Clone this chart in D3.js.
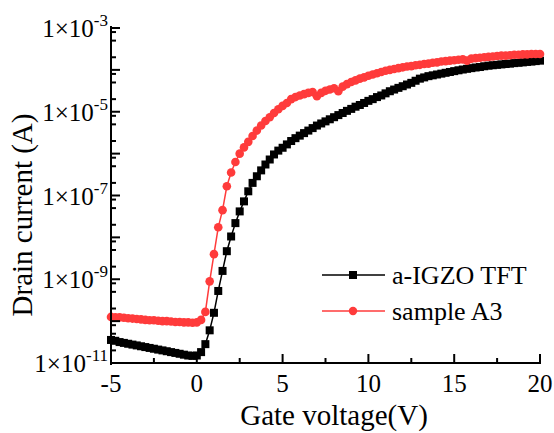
<!DOCTYPE html>
<html>
<head>
<meta charset="utf-8">
<script src="https://cdn.jsdelivr.net/npm/d3@7/dist/d3.min.js"></script>
<style>
  html, body { margin: 0; padding: 0; background: #fff; }
  svg { display: block; }
  text { font-family: "Liberation Serif", "Times New Roman", serif; fill: #000; }
</style>
</head>
<body>
<div id="chart"></div>
<script>
// Gate voltage sweep (V)
const gateVoltage = [
  -5.00,-4.75,-4.50,-4.25,-4.00,-3.75,-3.50,-3.25,-3.00,-2.75,
  -2.50,-2.25,-2.00,-1.75,-1.50,-1.25,-1.00,-0.75,-0.50,-0.25,
  0.00,0.25,0.50,0.75,1.00,1.25,1.50,1.75,2.00,2.25,
  2.50,2.75,3.00,3.25,3.50,3.75,4.00,4.25,4.50,4.75,
  5.00,5.25,5.50,5.75,6.00,6.25,6.50,6.75,7.00,7.25,
  7.50,7.75,8.00,8.25,8.50,8.75,9.00,9.25,9.50,9.75,
  10.00,10.25,10.50,10.75,11.00,11.25,11.50,11.75,12.00,12.25,
  12.50,12.75,13.00,13.25,13.50,13.75,14.00,14.25,14.50,14.75,
  15.00,15.25,15.50,15.75,16.00,16.25,16.50,16.75,17.00,17.25,
  17.50,17.75,18.00,18.25,18.50,18.75,19.00,19.25,19.50,19.75,
  20.00
];

// Drain current (A), a-IGZO TFT
const currentIGZO = [
  3.55e-11,3.39e-11,3.16e-11,3.02e-11,2.88e-11,2.75e-11,2.63e-11,2.51e-11,2.40e-11,2.29e-11,
  2.19e-11,2.09e-11,2.00e-11,1.91e-11,1.82e-11,1.74e-11,1.66e-11,1.58e-11,1.51e-11,1.48e-11,
  1.51e-11,1.82e-11,2.82e-11,6.03e-11,1.58e-10,5.25e-10,1.58e-9,4.68e-9,1.05e-8,2.19e-8,
  4.17e-8,7.24e-8,1.26e-7,2.00e-7,2.88e-7,3.98e-7,5.50e-7,7.24e-7,9.55e-7,1.18e-6,
  1.38e-6,1.66e-6,2.00e-6,2.34e-6,2.69e-6,3.09e-6,3.55e-6,4.07e-6,4.68e-6,5.25e-6,
  5.89e-6,6.61e-6,7.41e-6,8.32e-6,9.33e-6,1.05e-5,1.17e-5,1.32e-5,1.45e-5,1.62e-5,
  1.82e-5,2.00e-5,2.24e-5,2.45e-5,2.75e-5,3.09e-5,3.39e-5,3.72e-5,4.07e-5,4.47e-5,
  4.90e-5,5.50e-5,6.17e-5,6.61e-5,7.08e-5,7.41e-5,7.76e-5,8.13e-5,8.51e-5,8.91e-5,
  9.33e-5,9.77e-5,1.02e-4,1.06e-4,1.10e-4,1.14e-4,1.17e-4,1.22e-4,1.26e-4,1.29e-4,
  1.32e-4,1.35e-4,1.38e-4,1.41e-4,1.45e-4,1.48e-4,1.51e-4,1.55e-4,1.58e-4,1.62e-4,
  1.66e-4
];

// Drain current (A), sample A3
const currentA3 = [
  1.26e-10,1.23e-10,1.23e-10,1.20e-10,1.17e-10,1.15e-10,1.12e-10,1.10e-10,1.07e-10,1.05e-10,
  1.05e-10,1.02e-10,1.00e-10,1.00e-10,9.77e-11,9.55e-11,9.55e-11,9.33e-11,9.33e-11,9.12e-11,
  9.33e-11,1.07e-10,1.66e-10,8.91e-10,3.98e-9,1.74e-8,4.47e-8,1.66e-7,3.55e-7,6.31e-7,
  1.00e-6,1.41e-6,1.91e-6,2.63e-6,3.55e-6,4.68e-6,6.03e-6,7.41e-6,9.33e-6,1.15e-5,
  1.38e-5,1.62e-5,2.00e-5,2.24e-5,2.45e-5,2.63e-5,2.82e-5,2.95e-5,2.34e-5,2.82e-5,
  3.16e-5,3.39e-5,3.63e-5,3.09e-5,3.98e-5,4.57e-5,5.13e-5,5.62e-5,6.17e-5,6.61e-5,
  7.24e-5,7.76e-5,8.32e-5,8.91e-5,9.55e-5,1.00e-4,1.05e-4,1.10e-4,1.15e-4,1.20e-4,
  1.23e-4,1.29e-4,1.32e-4,1.38e-4,1.41e-4,1.48e-4,1.51e-4,1.58e-4,1.62e-4,1.66e-4,
  1.70e-4,1.74e-4,1.78e-4,1.66e-4,1.86e-4,1.91e-4,1.95e-4,2.00e-4,2.04e-4,2.09e-4,
  2.14e-4,2.19e-4,2.19e-4,2.24e-4,2.29e-4,2.29e-4,2.34e-4,2.34e-4,2.40e-4,2.40e-4,
  2.40e-4
];

const seriesNames = ["a-IGZO TFT", "sample A3"];
const xTickValues = [-5, 0, 5, 10, 15, 20];
const xMinorTicks = [-2.5, 2.5, 7.5, 12.5, 17.5];
const yLabelExponents = [-3, -5, -7, -9, -11];

const W = 554, H = 433;
const svg = d3.select("#chart").append("svg").attr("width", W).attr("height", H);

const x = d3.scaleLinear().domain([-5, 20]).range([111, 540]);
const y = d3.scaleLog().domain([1e-11, 1e-3]).range([363, 28]);

const black = "#000000", red = "#ff3b3b";

// data
const igzo = gateVoltage.map((v, i) => ({ v, c: currentIGZO[i] }));
const a3 = gateVoltage.map((v, i) => ({ v, c: currentA3[i] }));
const line = d3.line().x(d => x(d.v)).y(d => y(d.c));

const gPlot = svg.append("g");
gPlot.append("path").datum(igzo).attr("d", line)
  .attr("fill", "none").attr("stroke", black).attr("stroke-width", 1.5);
gPlot.selectAll("rect.m").data(igzo).enter().append("rect")
  .attr("x", d => x(d.v) - 4).attr("y", d => y(d.c) - 4)
  .attr("width", 8).attr("height", 8).attr("fill", black);

gPlot.append("path").datum(a3).attr("d", line)
  .attr("fill", "none").attr("stroke", red).attr("stroke-width", 1.5);
gPlot.selectAll("circle.m").data(a3).enter().append("circle")
  .attr("cx", d => x(d.v)).attr("cy", d => y(d.c)).attr("r", 4.3).attr("fill", red);

// axes
const [x0, x1] = x.range();
const [yb, yt] = y.range();
const axisG = svg.append("g").attr("stroke", "#000").attr("stroke-width", 2);
axisG.append("line").attr("x1", x0).attr("x2", x0).attr("y1", yt - 1).attr("y2", yb + 1).attr("stroke-linecap", "square");
axisG.append("line").attr("x1", x0).attr("x2", x1 + 1).attr("y1", yb).attr("y2", yb);

// y ticks (inward)
const majorY = d3.range(-11, -2).map(e => Math.pow(10, e));
const minorY = [];
majorY.forEach(m => { if (m < 1e-3) [2, 5, 8].forEach(k => minorY.push(m * k)); });
majorY.forEach(m => axisG.append("line").attr("x1", x0).attr("x2", x0 + 9).attr("y1", y(m)).attr("y2", y(m)));
minorY.forEach(m => axisG.append("line").attr("x1", x0).attr("x2", x0 + 5).attr("y1", y(m)).attr("y2", y(m)));

// x ticks (inward)
xTickValues.forEach(v => { if (v !== -5) axisG.append("line").attr("x1", x(v)).attr("x2", x(v)).attr("y1", yb).attr("y2", yb - 9); });
xMinorTicks.forEach(v => axisG.append("line").attr("x1", x(v)).attr("x2", x(v)).attr("y1", yb).attr("y2", yb - 5));

// x tick labels
svg.selectAll("text.xt").data(xTickValues).enter().append("text")
  .attr("x", d => x(d)).attr("y", yb + 29).attr("text-anchor", "middle")
  .attr("font-size", 25).text(d => d);

// y tick labels
yLabelExponents.forEach(e => {
  const t = svg.append("text").attr("x", 108).attr("y", y(Math.pow(10, e)) + 9)
    .attr("text-anchor", "end").attr("font-size", 25);
  t.append("tspan").text("1\u00d710");
  t.append("tspan").attr("dy", -11).attr("font-size", 17).text(String(e));
});

// axis titles
svg.append("text").attr("x", 334).attr("y", 425).attr("text-anchor", "middle")
  .attr("font-size", 29).text("Gate voltage(V)");
svg.append("text").attr("transform", "translate(32,215) rotate(-90)")
  .attr("text-anchor", "middle").attr("font-size", 29).text("Drain current (A)");

// legend
const legend = [
  { name: seriesNames[0], color: black, shape: "square", yy: 275 },
  { name: seriesNames[1], color: red, shape: "circle", yy: 311 }
];
legend.forEach(l => {
  svg.append("line").attr("x1", 322).attr("x2", 385).attr("y1", l.yy).attr("y2", l.yy)
    .attr("stroke", l.color).attr("stroke-width", 1.5);
  if (l.shape === "square") svg.append("rect").attr("x", 349).attr("y", l.yy - 4).attr("width", 8).attr("height", 8).attr("fill", l.color);
  else svg.append("circle").attr("cx", 353).attr("cy", l.yy).attr("r", 4.2).attr("fill", l.color);
  svg.append("text").attr("x", 392).attr("y", l.yy + 9).attr("font-size", 26).text(l.name);
});
</script>
</body>
</html>
